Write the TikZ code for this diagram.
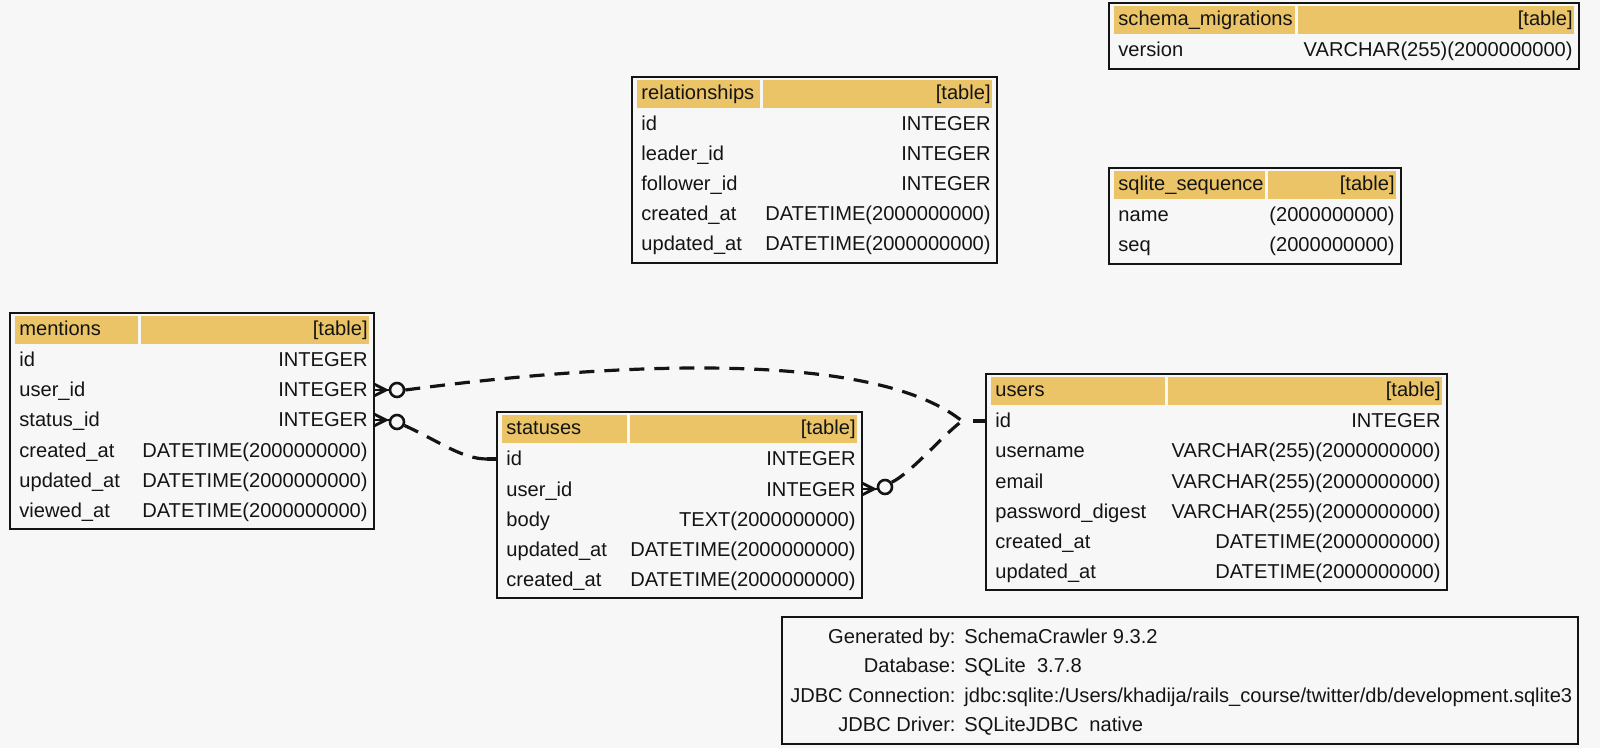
\documentclass[tikz,border=0pt]{standalone}
\usepackage{fontspec}
\setmainfont{Liberation Sans}
\usetikzlibrary{calc}
\definecolor{bgc}{RGB}{247,247,247}
\definecolor{hdrc}{RGB}{235,196,104}
\definecolor{ink}{RGB}{20,20,20}
\newcommand{\tabfont}{\fontsize{10.05}{12}\selectfont}
\tikzset{
  hdr/.style={fill=hdrc},
  tblframe/.style={draw=ink, line width=1.4pt},
  ltxt/.style={anchor=base west, inner sep=0pt, text=ink, font=\tabfont},
  rtxt/.style={anchor=base east, inner sep=0pt, text=ink, font=\tabfont},
  fk/.style={draw=ink, line width=1.6pt, dash pattern=on 7.5pt off 5pt},
  tickline/.style={draw=ink, line width=1.6pt},
  crowline/.style={draw=ink, line width=1.4pt},
  crowfill/.style={fill=ink},
  odot/.style={circle, draw=ink, line width=1.3pt, fill=bgc, minimum size=7pt, inner sep=0pt},
}
% #1 key, #2 title, #3 x0, #4 y0, #5 x1, #6 split, #7 rows count, #8 rows
\newcommand{\dbtable}[8]{%
  \fill[hdr] (#3+5,#4+3) rectangle (#6-1.5,#4+31);
  \fill[hdr] (#6+1.5,#4+3) rectangle (#5-5,#4+31);
  \draw[tblframe] (#3,#4) rectangle (#5,#4+36+30*#7);
  \node[ltxt] (#1-title) at (#3+9,#4+23) {#2};
  \node[rtxt] (#1-tag) at (#5-6,#4+23) {[table]};
  \foreach \ca/\cb [count=\i] in {#8} {
    \node[ltxt] (#1-l\i) at (#3+9,#4+24+30*\i) {\ca};
    \node[rtxt] (#1-r\i) at (#5-6,#4+24+30*\i) {\cb};
    \coordinate (#1-\i w) at (#3,#4+17+30*\i);
    \coordinate (#1-\i e) at (#5,#4+17+30*\i);
  }%
}
% crow's foot at a port #1, pointing to the right
\newcommand{\crowfoot}[1]{%
  \fill[crowfill] ($(#1)+(0,-7.5)$) -- ($(#1)+(15,0)$) -- ($(#1)+(0,7.5)$) -- ($(#1)+(0,4.5)$) -- ($(#1)+(8,0)$) -- ($(#1)+(0,-4.5)$) -- cycle;
  \draw[crowline] (#1) -- ($(#1)+(15,0)$);
}
\begin{document}
\begin{tikzpicture}[x=0.5pt,y=-0.5pt]
\useasboundingbox (0,0) rectangle (1600,748);
\fill[bgc] (0,0) rectangle (1600,748);

\dbtable{sm}{schema\_migrations}{1109}{3}{1579}{1296}{1}{version/VARCHAR(255)(2000000000)}
\dbtable{rel}{relationships}{632}{77}{997}{761.5}{5}{id/INTEGER, leader\_id/INTEGER, follower\_id/INTEGER, created\_at/DATETIME(2000000000), updated\_at/DATETIME(2000000000)}
\dbtable{seq}{sqlite\_sequence}{1109}{168}{1401}{1266.5}{2}{name/(2000000000), seq/(2000000000)}
\dbtable{men}{mentions}{10}{313}{374}{139.5}{6}{id/INTEGER, user\_id/INTEGER, status\_id/INTEGER, created\_at/DATETIME(2000000000), updated\_at/DATETIME(2000000000), viewed\_at/DATETIME(2000000000)}
\dbtable{st}{statuses}{497}{412}{862}{628}{5}{id/INTEGER, user\_id/INTEGER, body/TEXT(2000000000), updated\_at/DATETIME(2000000000), created\_at/DATETIME(2000000000)}
\dbtable{us}{users}{986}{374}{1447}{1166}{6}{id/INTEGER, username/VARCHAR(255)(2000000000), email/VARCHAR(255)(2000000000), password\_digest/VARCHAR(255)(2000000000), created\_at/DATETIME(2000000000), updated\_at/DATETIME(2000000000)}

% footer
\draw[tblframe] (782,617) rectangle (1578,744);
\node[rtxt] (f-l1) at (956,643) {Generated by:};
\node[ltxt] (f-v1) at (964,643) {SchemaCrawler 9.3.2};
\node[rtxt] (f-l2) at (956,672.5) {Database:};
\node[ltxt] (f-v2) at (964,672.5) {SQLite\ \ 3.7.8};
\node[rtxt] (f-l3) at (956,702) {JDBC Connection:};
\node[ltxt] (f-v3) at (964,702) {jdbc:sqlite:/Users/khadija/rails\_course/twitter/db/development.sqlite3};
\node[rtxt] (f-l4) at (956,731.5) {JDBC Driver:};
\node[ltxt] (f-v4) at (964,731.5) {SQLiteJDBC\ \ native};

% connector ends
\coordinate (uin) at ($(us-1w)+(-24,0)$);
\coordinate (sin) at ($(st-1w)+(-10,0)$);

% mentions.user_id -> users.id
\crowfoot{men-2e}
\node[odot] (c1) at ($(men-2e)+(23,0)$) {};
\draw[fk] (c1.east) .. controls +(150,-20) and +(-100,-80) .. (uin);

% mentions.status_id -> statuses.id
\crowfoot{men-3e}
\node[odot] (c2) at ($(men-3e)+(23,2)$) {};
\draw[fk] (c2.-25) .. controls +(35,16) and +(-25,0) .. (sin);
\draw[tickline] (sin) -- (st-1w);

% statuses.user_id -> users.id
\crowfoot{st-2e}
\node[odot] (c3) at ($(st-2e)+(23,-2)$) {};
\draw[fk] (c3.35) .. controls +(20,-10) and +(-20,15) .. (uin);
\draw[tickline] ($(us-1w)+(-13,0)$) -- (us-1w);
\end{tikzpicture}
\end{document}
